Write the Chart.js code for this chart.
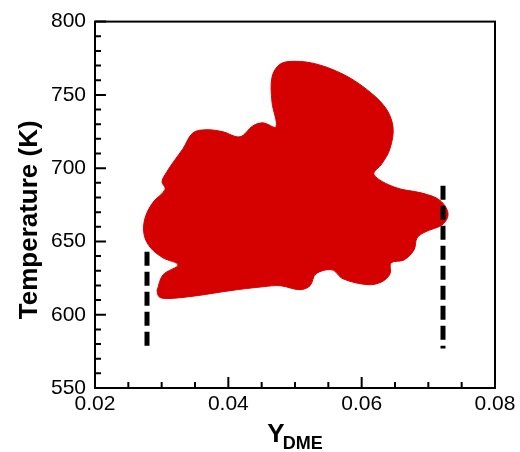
<!DOCTYPE html>
<html>
<head>
<meta charset="utf-8">
<script src="https://cdn.jsdelivr.net/npm/chart.js@4/dist/chart.umd.min.js"></script>
<style>
  html, body { margin: 0; padding: 0; background: #fff; }
  #wrap { width: 520px; height: 452px; }
</style>
</head>
<body>
<div id="wrap"><canvas id="c" width="520" height="452"></canvas></div>
<script>
// ---- data ----
const xTickValues = [0.02, 0.04, 0.06, 0.08];
const xTickLabels = ['0.02', '0.04', '0.06', '0.08'];
const xMinorTicks = [0.025, 0.03, 0.035, 0.045, 0.05, 0.055, 0.065, 0.07, 0.075];
const yTickValues = [550, 600, 650, 700, 750, 800];
const yTickLabels = ['550', '600', '650', '700', '750', '800'];
const yMinorTicks = [560, 570, 580, 590, 610, 620, 630, 640, 660, 670, 680, 690, 710, 720, 730, 740, 760, 770, 780, 790];

// outline of the red region (Y_DME, Temperature)
const regionX = [0.0293, 0.0302, 0.03245, 0.0302, 0.02825, 0.02735, 0.0275, 0.0287, 0.0305, 0.03005,
  0.0308, 0.032, 0.0332, 0.0347, 0.0368, 0.0392, 0.04175, 0.0437, 0.0452, 0.04715,
  0.04655, 0.04655, 0.04775, 0.05, 0.0533, 0.0572, 0.0605, 0.0635, 0.0647, 0.06425,
  0.06305, 0.06185, 0.065, 0.0692, 0.07175, 0.07295, 0.0722, 0.0695, 0.0683, 0.06785,
  0.06635, 0.0644, 0.06425, 0.06305, 0.06095, 0.0572, 0.05555, 0.05315, 0.05225, 0.05075,
  0.04775, 0.0452, 0.04025, 0.0353, 0.0308, 0.0296, 0.0293];
const regionY = [616.4, 627.2, 634.0, 638.8, 646.2, 655.0, 665.9, 676.7, 685.5, 690.9,
  697.7, 705.8, 713.3, 724.1, 726.2, 724.8, 721.4, 728.9, 730.9, 728.2,
  745.1, 762.1, 770.9, 772.9, 770.9, 764.1, 754.6, 741.7, 728.2, 713.3,
  703.1, 695.7, 686.9, 682.8, 678.0, 669.2, 661.8, 656.4, 652.3, 644.2,
  637.4, 635.4, 627.9, 622.5, 620.5, 624.5, 630.6, 627.9, 619.8, 617.1,
  619.8, 619.1, 616.4, 613.0, 611.0, 612.3, 616.4];

// dashed limit lines
const leftLimitX = [0.0278, 0.0278];
const leftLimitY = [643, 576];
const rightLimitX = [0.0722, 0.0722];
const rightLimitY = [688, 577];

const xTitle = 'Y';
const xTitleSub = 'DME';
const yTitle = 'Temperature (K)';

// ---- build ----
const pts = (xs, ys) => xs.map((x, i) => ({ x: x, y: ys[i] }));
const RED = '#d50000';
const FONT = '"Liberation Sans", Arial, Helvetica, sans-serif';

const framePlugin = {
  id: 'frame',
  afterDraw(chart) {
    const ctx = chart.ctx;
    const a = chart.chartArea;
    const xs = chart.scales.x, ys = chart.scales.y;
    ctx.save();
    ctx.strokeStyle = '#000';
    ctx.lineWidth = 2;
    ctx.strokeRect(a.left, a.top, a.right - a.left, a.bottom - a.top);
    ctx.beginPath();
    xTickValues.forEach(v => { const p = xs.getPixelForValue(v); ctx.moveTo(p, a.bottom); ctx.lineTo(p, a.bottom - 11); });
    xMinorTicks.forEach(v => { const p = xs.getPixelForValue(v); ctx.moveTo(p, a.bottom); ctx.lineTo(p, a.bottom - 6); });
    yTickValues.forEach(v => { const p = ys.getPixelForValue(v); ctx.moveTo(a.left, p); ctx.lineTo(a.left + 11, p); });
    yMinorTicks.forEach(v => { const p = ys.getPixelForValue(v); ctx.moveTo(a.left, p); ctx.lineTo(a.left + 6, p); });
    ctx.stroke();

    ctx.fillStyle = '#000';
    // y title
    ctx.font = 'bold 26px ' + FONT;
    ctx.save();
    ctx.translate(37, (a.top + a.bottom) / 2 + 15);
    ctx.rotate(-Math.PI / 2);
    ctx.textAlign = 'center';
    ctx.textBaseline = 'alphabetic';
    ctx.fillText(yTitle, 0, 0);
    ctx.restore();
    // x title with subscript
    ctx.font = 'bold 26px ' + FONT;
    const w1 = ctx.measureText(xTitle).width;
    ctx.font = 'bold 18px ' + FONT;
    const w2 = ctx.measureText(xTitleSub).width;
    const total = w1 - 2 + w2;
    const cx = (a.left + a.right) / 2 - 0;
    const x0 = cx - total / 2;
    ctx.textAlign = 'left';
    ctx.textBaseline = 'alphabetic';
    ctx.font = 'bold 26px ' + FONT;
    ctx.fillText(xTitle, x0, 442);
    ctx.font = 'bold 18px ' + FONT;
    ctx.fillText(xTitleSub, x0 + w1 - 2, 449);
    ctx.restore();
  }
};

new Chart(document.getElementById('c'), {
  type: 'scatter',
  data: {
    datasets: [
      { data: pts(leftLimitX, leftLimitY), showLine: true, borderColor: '#000', borderWidth: 5,
        borderDash: [14, 6], borderCapStyle: 'butt', pointRadius: 0, fill: false, order: 0 },
      { data: pts(rightLimitX, rightLimitY), showLine: true, borderColor: '#000', borderWidth: 5,
        borderDash: [14, 6], borderCapStyle: 'butt', pointRadius: 0, fill: false, order: 0 },
      { data: pts(regionX, regionY), showLine: true, borderColor: RED, backgroundColor: RED,
        borderWidth: 1, pointRadius: 0, tension: 0.35, fill: 'shape', order: 10 }
    ]
  },
  options: {
    responsive: false,
    animation: false,
    devicePixelRatio: 1,
    layout: { padding: { top: 19, right: 25, bottom: 0, left: 0 } },
    plugins: { legend: { display: false }, tooltip: { enabled: false }, title: { display: false } },
    scales: {
      x: {
        type: 'linear', min: 0.02, max: 0.08,
        grid: { display: false, drawTicks: false },
        border: { display: false },
        afterBuildTicks: s => { s.ticks = xTickValues.map(v => ({ value: v })); },
        afterFit: s => { s.height = 64; },
        ticks: {
          padding: 4, color: '#000', font: { family: FONT, size: 21 },
          maxRotation: 0, autoSkip: false,
          callback: (v) => { const i = xTickValues.indexOf(v); return i >= 0 ? xTickLabels[i] : ''; }
        }
      },
      y: {
        type: 'linear', min: 550, max: 800,
        grid: { display: false, drawTicks: false },
        border: { display: false },
        afterBuildTicks: s => { s.ticks = yTickValues.map(v => ({ value: v })); },
        afterFit: s => { s.width = 95; },
        ticks: {
          padding: 9, color: '#000', font: { family: FONT, size: 21 }, autoSkip: false,
          callback: (v) => { const i = yTickValues.indexOf(v); return i >= 0 ? yTickLabels[i] : ''; }
        }
      }
    }
  },
  plugins: [framePlugin]
});
</script>
</body>
</html>
